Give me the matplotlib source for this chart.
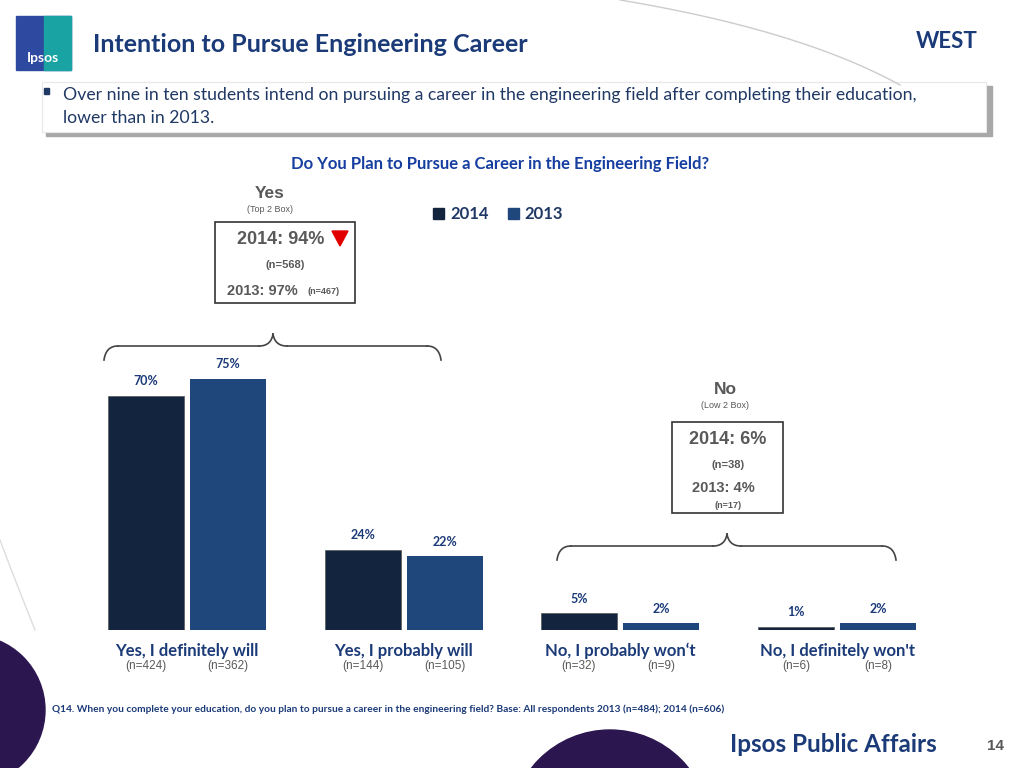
import matplotlib
matplotlib.use("Agg")
import matplotlib.pyplot as plt
from matplotlib.patches import Rectangle, Circle, Polygon
import numpy as np

categories = ["Yes, I definitely will", "Yes, I probably will", "No, I probably won\u2018t", "No, I definitely won't"]
vals_2014 = [70, 24, 5, 1]
vals_2013 = [75, 22, 2, 2]
n_2014 = ["(n=424)", "(n=144)", "(n=32)", "(n=6)"]
n_2013 = ["(n=362)", "(n=105)", "(n=9)", "(n=8)"]
series = ["2014", "2013"]

C14 = "#13243f"
C13 = "#1f477b"
NAVY = "#1b3a78"
TXT = "#1f3864"
GREY = "#595959"
AR = "Liberation Sans"

W, H = 1024, 768
fig = plt.figure(figsize=(10.24, 7.68), dpi=100)
fig.patch.set_facecolor("white")

def fx(x): return x / W
def fy(y): return 1 - y / H

def t(x, y, s, **kw):
    fig.text(fx(x), fy(y), s, **kw)

ax_bg = fig.add_axes([0, 0, 1, 1], zorder=-5)
ax_bg.set_xlim(0, W); ax_bg.set_ylim(H, 0); ax_bg.axis("off")
ax_bg.add_patch(Circle((-30, 710), 75, color="#2b1650"))
ax_bg.add_patch(Circle((610, 830), 100, color="#2b1650"))

def curve(p0, p1, p2, **k):
    s = np.linspace(0, 1, 50)[:, None]
    pts = (1 - s) ** 2 * np.array(p0) + 2 * (1 - s) * s * np.array(p1) + s ** 2 * np.array(p2)
    ax_bg.plot(pts[:, 0], pts[:, 1], **k)
curve((620, 0), (800, 30), (900, 85), color="#cccccc", lw=1)
curve((0, 540), (15, 580), (35, 630), color="#dddddd", lw=1)

# logo
ax_bg.add_patch(Rectangle((16, 16), 55, 54, color="#2e4aa0"))
ax_bg.add_patch(Rectangle((44, 16), 27, 54, color="#1aa3a3"))
ax_bg.text(43, 58, "Ipsos", color="white", fontsize=10, ha="center", va="center", fontweight="bold", family="Lato")
# bullet box with shadow
ax_bg.add_patch(Rectangle((46, 86), 946, 50, color="#a8a8a8"))
ax_bg.add_patch(Rectangle((42, 82), 944, 50, facecolor="white", edgecolor="#e8e8e8", lw=0.8))
ax_bg.add_patch(Rectangle((44, 88), 5, 6, color=TXT))

t(93, 44, "Intention to Pursue Engineering Career", fontsize=18, color=NAVY, fontweight="bold", family="Lato", va="center")
t(978, 42, "WEST", fontsize=16, color=NAVY, fontweight="bold", family="Lato", va="center", ha="right")
t(63, 95, "Over nine in ten students intend on pursuing a career in the engineering field after completing their education,",
  fontsize=12.7, color=TXT, family="Lato", va="center")
t(63, 118, "lower than in 2013.", fontsize=12.7, color=TXT, family="Lato", va="center")
t(500, 164, "Do You Plan to Pursue a Career in the Engineering Field?", fontsize=12, color="#163ea0",
  fontweight="bold", family="Lato", ha="center", va="center")

# legend
ax_bg.add_patch(Rectangle((433, 208), 11, 11, color=C14))
t(450, 214, "2014", fontsize=12, color=TXT, fontweight="bold", family="Lato", va="center")
ax_bg.add_patch(Rectangle((508, 208), 11, 11, color=C13))
t(524, 214, "2013", fontsize=12, color=TXT, fontweight="bold", family="Lato", va="center")

# Yes box
t(270, 194, "Yes", fontsize=12.5, color=GREY, fontweight="bold", ha="center", va="center", family=AR)
t(270, 210, "(Top 2 Box)", fontsize=6.5, color=GREY, ha="center", va="center", family=AR)
ax_bg.add_patch(Rectangle((215, 222), 140, 81, facecolor="white", edgecolor="#333333", lw=1.2))
t(237, 240, "2014: 94%", fontsize=13, color=GREY, fontweight="bold", va="center", family=AR)
ax_bg.add_patch(Polygon([[332, 231], [348, 231], [340, 246]], color="#e00000"))
t(285, 265, "(n=568)", fontsize=8, color=GREY, fontweight="bold", ha="center", va="center", family=AR)
t(227, 291, "2013: 97%", fontsize=10.5, color=GREY, fontweight="bold", va="center", family=AR)
t(307, 292, "(n=467)", fontsize=6.5, color=GREY, fontweight="bold", va="center", family=AR)

# No box
t(725, 389, "No", fontsize=12.5, color=GREY, fontweight="bold", ha="center", va="center", family=AR)
t(725, 406, "(Low 2 Box)", fontsize=6.5, color=GREY, ha="center", va="center", family=AR)
ax_bg.add_patch(Rectangle((672, 422), 111, 91, facecolor="white", edgecolor="#333333", lw=1.2))
t(728, 440, "2014: 6%", fontsize=13, color=GREY, fontweight="bold", ha="center", va="center", family=AR)
t(728, 465, "(n=38)", fontsize=8, color=GREY, fontweight="bold", ha="center", va="center", family=AR)
t(692, 488, "2013: 4%", fontsize=10.5, color=GREY, fontweight="bold", va="center", family=AR)
t(728, 505, "(n=17)", fontsize=6.5, color=GREY, fontweight="bold", ha="center", va="center", family=AR)

def brace(x0, x1, y, mid):
    k = dict(color="#444444", lw=1.2)
    curve((x0, y + 14), (x0 + 2, y), (x0 + 14, y), **k)
    ax_bg.plot([x0 + 14, mid - 14], [y, y], **k)
    curve((mid - 14, y), (mid - 2, y), (mid, y - 12), **k)
    curve((mid, y - 12), (mid + 2, y), (mid + 14, y), **k)
    ax_bg.plot([mid + 14, x1 - 14], [y, y], **k)
    curve((x1 - 14, y), (x1 - 2, y), (x1, y + 14), **k)
brace(104, 441, 346, 273)
brace(557, 896, 546, 727)

# main chart
gx = [187, 404, 620, 837]
sp = 216.7
left, right = 100, 925
ax = fig.add_axes([fx(left), fy(630), (right - left) / W, 335 / H])
ax.set_xlim((left - gx[0]) / sp, (right - gx[0]) / sp)
ax.set_ylim(0, 100)
ax.axis("off")
x = np.arange(len(categories))
bw, off = 0.351, 0.189
ax.bar(x - off, vals_2014, bw, color=C14, edgecolor="#555555", linewidth=0.5, label=series[0])
ax.bar(x + off, vals_2013, bw, color=C13, label=series[1])
for xi, v in zip(x - off, vals_2014):
    ax.text(xi, v + 2.5, f"{v}%", ha="center", va="bottom", fontsize=9, color=NAVY, fontweight="bold", family="Lato")
for xi, v in zip(x + off, vals_2013):
    ax.text(xi, v + 2.5, f"{v}%", ha="center", va="bottom", fontsize=9, color=NAVY, fontweight="bold", family="Lato")
for i, c in enumerate(categories):
    t(gx[i], 651, c, fontsize=12, color=NAVY, fontweight="bold", family="Lato", ha="center", va="center")
    t(gx[i] - 41, 666, n_2014[i], fontsize=8.5, color=GREY, ha="center", va="center", family=AR)
    t(gx[i] + 41, 666, n_2013[i], fontsize=8.5, color=GREY, ha="center", va="center", family=AR)

t(52, 709, "Q14. When you complete your education, do you plan to pursue a career in the engineering field? Base: All respondents 2013 (n=484); 2014 (n=606)",
  fontsize=7.3, color=NAVY, fontweight="bold", family="Lato", va="center")
t(730, 745, "Ipsos Public Affairs", fontsize=17.5, color=NAVY, fontweight="bold", family="Lato", va="center")
t(1004, 746, "14", fontsize=11, color=GREY, fontweight="bold", ha="right", va="center", family=AR)

fig.savefig("out.png", dpi=100)
